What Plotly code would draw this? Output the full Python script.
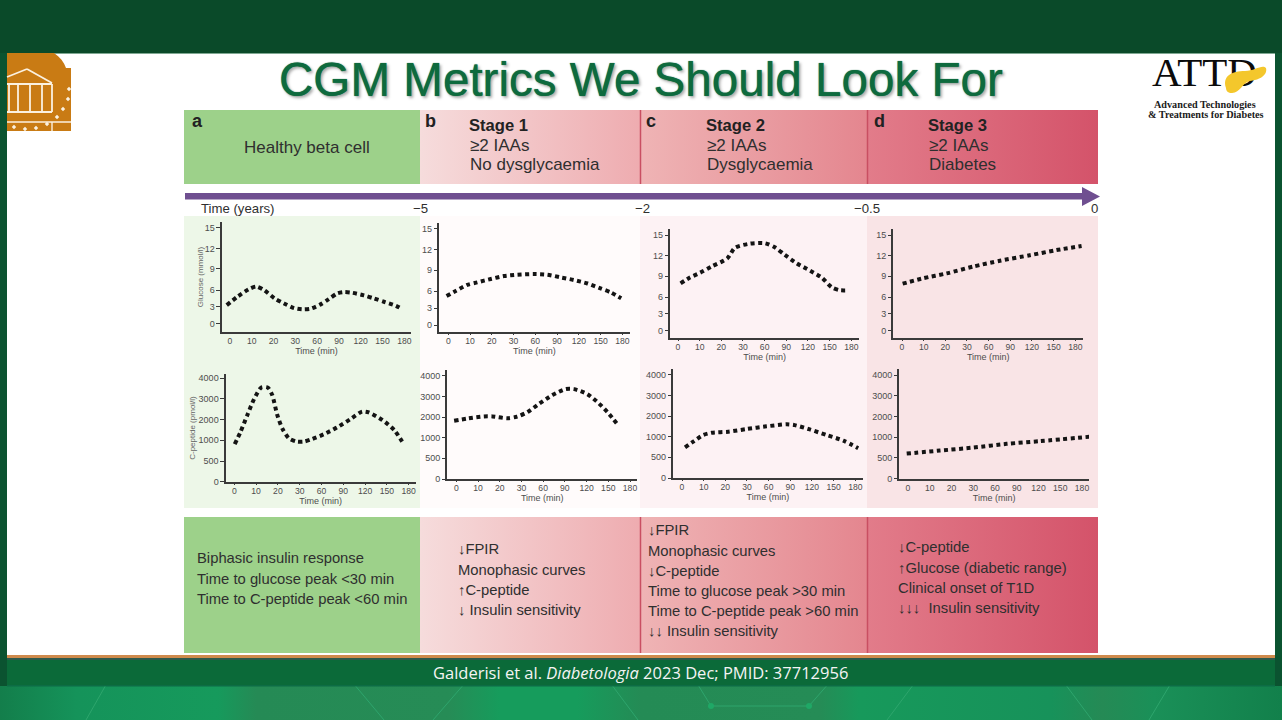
import numpy as np
import plotly.graph_objects as go

W, H = 1282, 720

# ---------- data ----------
TIME_TICKS = [0, 10, 20, 30, 60, 90, 120, 150, 180]
GLUCOSE_TICKS = [0, 3, 6, 9, 12, 15]
CPEPTIDE_TICKS = [0, 500, 1000, 2000, 3000, 4000]

a_glucose_t = [-1.5, 3.4, 8.7, 12.1, 15.6, 20.5, 24.8, 29.4, 39.5, 51, 64.8, 76, 87.7, 97, 108, 124.4, 138, 151.9, 168, 177]
a_glucose_v = [3.3, 4.8, 6.14, 6.5, 6.0, 4.5, 3.6, 2.77, 2.54, 2.65, 3.43, 4.37, 5.4, 5.64, 5.52, 5.04, 4.5, 3.9, 3.2, 2.6]
b_glucose_t = [-0.8, 3.4, 8.7, 13.3, 19.5, 25.6, 35, 58, 76.5, 95, 113, 132, 150, 164, 178.5]
b_glucose_v = [5.15, 6.03, 6.9, 7.26, 7.74, 8.16, 8.35, 8.44, 8.35, 7.97, 7.6, 7.1, 6.4, 5.8, 4.73]
c_glucose_t = [1.2, 5.5, 10.2, 15.5, 22.8, 26.3, 39.7, 60.6, 74, 88, 104, 123, 139, 153, 163.5, 172.6]
c_glucose_v = [7.97, 8.8, 9.5, 10.4, 11.6, 13.14, 13.74, 13.8, 13.2, 12.1, 10.9, 9.8, 8.8, 7.4, 7.0, 6.97]
d_glucose_t = [0.3, 9.8, 20.6, 38.7, 75.6, 117, 154, 188.7]
d_glucose_v = [7.93, 8.7, 9.4, 10.4, 11.25, 12.05, 12.8, 13.4]

a_cpeptide_t = [0.2, 2.9, 6, 9, 12.4, 15.4, 17.4, 19.7, 22, 25, 28.6, 36, 47, 63, 81.7, 100, 116, 125, 144, 160, 171]
a_cpeptide_v = [910, 1420, 2230, 2980, 3560, 3550, 3190, 2230, 1580, 1100, 970, 970, 1060, 1290, 1630, 2030, 2390, 2350, 1980, 1500, 970]
b_cpeptide_t = [-1, 5.8, 12.7, 16.6, 23.5, 28, 38, 54, 72.7, 91, 102.6, 121, 137, 151, 162.6]
b_cpeptide_v = [1820, 1940, 2030, 2030, 1940, 2020, 2230, 2630, 3060, 3350, 3350, 3110, 2660, 2150, 1645]
c_cpeptide_t = [1.4, 5.2, 9.8, 13.7, 21.4, 29.8, 57, 85, 96, 117, 140, 163.4, 184]
c_cpeptide_v = [740, 880, 1080, 1190, 1240, 1370, 1500, 1600, 1560, 1350, 1080, 905, 720]
d_cpeptide_t = [-0.6, 14.7, 30, 76, 122, 193]
d_cpeptide_v = [605, 678, 750, 840, 905, 1030]

HEADER_TEXT = ["Stage 1", "Stage 2", "Stage 3"]
TIME_LABELS = ["Time (years)", "\u22125", "\u22122", "\u22120.5", "0"]

# ---------- scales of the original drawing (its ticks are not evenly scaled) ----------
GLUCOSE_TICK_POS = [0, 0.82, 1.63, 2.65, 3.65, 4.65]
CPEPTIDE_TICK_POS = [0, 1, 2, 3, 4, 5]


def time_pos(t):
    return np.interp(t, [-10] + TIME_TICKS + [210], [-1, 0, 1, 2, 3, 4, 5, 6, 7, 8, 9]).tolist()


def glucose_pos(v):
    return np.interp(v, GLUCOSE_TICKS, GLUCOSE_TICK_POS).tolist()


def cpeptide_pos(v):
    return np.interp(v, CPEPTIDE_TICKS, CPEPTIDE_TICK_POS).tolist()


# geometry per panel in figure pixels: axis left, right, bottom, top, first x tick, last x tick, y=0 tick, top y tick
PANELS = [
    dict(t=a_glucose_t, v=a_glucose_v, kind="g", box=(221.7, 411.3, 331.7, 222.3, 230.0, 404.3, 323.7, 227.7), ytitle="Glucose (mmol/l)", standoff=0),
    dict(t=b_glucose_t, v=b_glucose_v, kind="g", box=(439.0, 629.7, 332.3, 223.3, 448.3, 622.3, 325.0, 228.7), ytitle=None, standoff=0),
    dict(t=c_glucose_t, v=c_glucose_v, kind="g", box=(670.0, 859.3, 338.0, 229.0, 678.0, 851.3, 330.7, 235.0), ytitle=None, standoff=0),
    dict(t=d_glucose_t, v=d_glucose_v, kind="g", box=(893.3, 1083.3, 338.0, 229.0, 902.0, 1075.3, 330.7, 235.0), ytitle=None, standoff=0),
    dict(t=a_cpeptide_t, v=a_cpeptide_v, kind="c", box=(225.7, 415.7, 482.3, 373.7, 234.3, 408.7, 481.7, 378.3), ytitle="C-peptide (pmol/l)", standoff=2),
    dict(t=b_cpeptide_t, v=b_cpeptide_v, kind="c", box=(447.3, 637.3, 479.3, 370.3, 456.3, 630.0, 479.0, 375.7), ytitle=None, standoff=0),
    dict(t=c_cpeptide_t, v=c_cpeptide_v, kind="c", box=(673.0, 862.7, 478.3, 369.3, 682.0, 855.3, 478.0, 374.7), ytitle=None, standoff=0),
    dict(t=d_cpeptide_t, v=d_cpeptide_v, kind="c", box=(899.3, 1089.0, 478.7, 369.3, 908.0, 1082.0, 478.7, 375.0), ytitle=None, standoff=0),
]

fig = go.Figure()
shapes, annots = [], []


def rect(x0, y0, x1, y1, color, layer="below"):
    shapes.append(dict(type="rect", xref="x", yref="y", x0=x0, y0=y0, x1=x1, y1=y1,
                       fillcolor=color, line=dict(width=0), layer=layer))


def seg(x0, y0, x1, y1, color, width=1.0, layer="below"):
    shapes.append(dict(type="line", xref="x", yref="y", x0=x0, y0=y0, x1=x1, y1=y1,
                       line=dict(color=color, width=width), layer=layer))


def path(d, color, layer="below"):
    shapes.append(dict(type="path", xref="x", yref="y", path=d, fillcolor=color,
                       line=dict(width=0), layer=layer))


def label(x, y, text, size=14.8, color="#2f2f2f", anchor="left", font="Liberation Sans", **kw):
    annots.append(dict(xref="x", yref="y", x=x, y=y, text=text, showarrow=False, xanchor=anchor, yanchor="middle",
                       borderpad=0, borderwidth=0,
                       font=dict(size=size, color=color, family=font, **kw)))


def gradient(x0, y0, x1, y1, stops):
    fig.add_trace(go.Scatter(x=[x0, x1, x1, x0, x0], y=[y0, y0, y1, y1, y0], mode="lines", fill="toself",
                             line=dict(width=0), hoverinfo="skip", showlegend=False,
                             fillgradient=dict(type="horizontal", colorscale=stops),
                             xaxis="x", yaxis="y"))


# backdrop
rect(0, 0, W, 53, "#0a4a29")
rect(0, 53, 7, 690, "#0b5330")
rect(1275, 53, W, 690, "#0b5330")
rect(7, 53, 1275, 655, "#ffffff")
rect(7, 53, 1275, 54, "#7fa892")
rect(7, 655, 1275, 658, "#cf8a4c")
rect(7, 658, 1275, 660, "#2d5a4c")
rect(7, 660, 1275, 687, "#0b6a39")

# bands
rows = [(110, 184), (517, 653)]
for y0, y1 in rows:
    rect(184, y0, 420, y1, "#9dd18a")
    gradient(420, y0, 640, y1, [[0, "#f6dcdc"], [1, "#eeacb0"]])
    gradient(640, y0, 867, y1, [[0, "#efb4b5"], [1, "#e4868f"]])
    gradient(867, y0, 1098, y1, [[0, "#e27c8a"], [1, "#d4536a"]])
    seg(640.5, y0, 640.5, y1, "#c94f62", 1.5, "above")
    seg(867.5, y0, 867.5, y1, "#c94f62", 1.5, "above")

# bottom backdrop with soft facets
gradient(0, 686, W, 720, [[0, "#137e4b"], [0.06, "#15935a"], [0.17, "#169a5c"], [0.2, "#258a55"], [0.35, "#268c56"],
                          [0.39, "#169c5c"], [0.45, "#169c5c"], [0.5, "#248b55"], [0.64, "#258c56"], [0.67, "#17995b"],
                          [0.82, "#17925a"], [0.86, "#258a55"], [0.9, "#1a9058"], [1, "#12804b"]])
rect(7, 685, 1275, 686.5, "#0d6c45", "above")
for x0, y0, x1, y1 in [(105, 686.5, 86, 720), (356, 686.5, 384, 720), (462, 686.5, 433, 720), (613, 686.5, 638, 720),
                       (699, 686.5, 711, 706), (826, 686.5, 809, 706), (711, 706, 809, 706), (912, 686.5, 887, 720),
                       (1067, 686.5, 1092, 720), (1169, 686.5, 1149, 720)]:
    seg(x0, y0, x1, y1, "#2ea56d", 1.0, "above")
for cx in (711, 809):
    shapes.append(dict(type="circle", xref="x", yref="y", x0=cx - 3, x1=cx + 3, y0=703, y1=709,
                       fillcolor="#1fa866", line=dict(width=0), layer="above"))

# panels backing
rect(184, 216, 420, 508, "#edf7e8")
rect(420, 216, 640, 508, "#fffbfb")
rect(640, 216, 867, 508, "#fdf2f4")
rect(867, 216, 1098, 508, "#f9e4e6")

# timeline arrow
path("M 185 193 L 1082 193 L 1082 187 L 1100 196.5 L 1082 206 L 1082 199.5 L 185 199.5 Z", "#6f4f90")

# university logo
LOGO = "#c97b14"
path("M 7 53 L 54 53 C 60 57 64 62 66 68 L 71 68 L 71 131 L 7 131 Z", LOGO)
WHT = "#fbf1e0"
seg(7, 77, 27, 69, WHT, 1.8)
seg(27, 69, 52, 83, WHT, 1.8)
seg(7, 84, 52, 84, WHT, 1.8)
for cx in (9, 18, 30, 42, 52):
    seg(cx, 84, cx, 112, WHT, 1.8)
seg(7, 112, 52, 112, WHT, 1.8)
seg(7, 122, 71, 122, WHT, 1.4)
seg(52, 122, 52, 131, WHT, 1.4)
for sx, sy in [(14, 127), (25, 129), (36, 128), (47, 124), (57, 117), (63, 109), (68, 99), (69, 89)]:
    path(f"M {sx - 2.2} {sy} L {sx} {sy - 2.2} L {sx + 2.2} {sy} L {sx} {sy + 2.2} Z", WHT)

# ATTD logo wordmark (a trace, so the pancreas can cover part of it)
fig.add_trace(go.Scatter(x=[1204.5], y=[76], mode="text", text=["ATTD"], hoverinfo="skip", showlegend=False,
                         textfont=dict(family="Liberation Serif", size=41, color="#0b0b0b"), xaxis="x", yaxis="y"))
path("M 1226 88 C 1222 76 1232 71 1245 71 C 1255 71 1262 64 1266 68 C 1268 76 1258 80 1250 81 "
     "C 1243 82 1240 93 1232 93 C 1228 93 1226 91 1226 88 Z", "#f4c72c", layer="above")
label(1205, 104, "<b>Advanced Technologies</b>", 10.2, "#1a1a1a", "center", "Liberation Serif")
label(1205.5, 114.5, "<b>&amp; Treatments for Diabetes</b>", 10.2, "#1a1a1a", "center", "Liberation Serif")

# title
label(641, 79, "CGM Metrics We Should Look For", 47.6, "#0e6a3e", "center",
      shadow="0 0 1px #0e6a3e, 2px 2px 3px #aaaaaa")

# header band text
for x, y, t in [(192, 121, "a"), (425, 121, "b"), (646, 120.5, "c"), (874, 120.5, "d")]:
    label(x, y, f"<b>{t}</b>", 18, "#222222")
label(307, 147, "Healthy beta cell", 17, "#2f2f2f", "center")
for x, name, sub in [(469, HEADER_TEXT[0], "No dysglycaemia"), (706, HEADER_TEXT[1], "Dysglycaemia"), (928, HEADER_TEXT[2], "Diabetes")]:
    label(x, 125, f"<b>{name}</b>", 16.6, "#222222")
    label(x + 1, 145.5, "\u22652 IAAs", 17, "#2f2f2f")
    label(x + 1, 164.5, sub, 17, "#2f2f2f")

# time labels
label(201, 208, TIME_LABELS[0], 13.2, "#2f2f2f")
label(420, 208, TIME_LABELS[1], 13.2, "#2f2f2f", "center")
label(642, 208, TIME_LABELS[2], 13.2, "#2f2f2f", "center")
label(867, 208, TIME_LABELS[3], 13.2, "#2f2f2f", "center")
label(1094, 208, TIME_LABELS[4], 13.2, "#2f2f2f", "center")

# bottom text
ARROW_DOWN, ARROW_UP = "\u2193", "\u2191"
BOTTOM = [
    (197, [(558, "Biphasic insulin response"), (579, "Time to glucose peak &lt;30 min"), (599, "Time to C-peptide peak &lt;60 min")]),
    (458, [(549, ARROW_DOWN + "FPIR"), (570, "Monophasic curves"), (590, ARROW_UP + "C-peptide"), (610, ARROW_DOWN + " Insulin sensitivity")]),
    (648, [(530, ARROW_DOWN + "FPIR"), (551, "Monophasic curves"), (571, ARROW_DOWN + "C-peptide"), (591, "Time to glucose peak &gt;30 min"),
           (611, "Time to C-peptide peak &gt;60 min"), (631, ARROW_DOWN * 2 + " Insulin sensitivity")]),
    (898, [(547, ARROW_DOWN + "C-peptide"), (568, ARROW_UP + "Glucose (diabetic range)"), (588, "Clinical onset of T1D"),
           (608, ARROW_DOWN * 3 + "  Insulin sensitivity")]),
]
for x, lines in BOTTOM:
    for y, t in lines:
        label(x, y, t, 14.8, "#2f2f2f")

label(640.5, 672, "Galderisi et al. <i>Diabetologia</i> 2023 Dec; PMID: 37712956", 16.5, "#f4f4f4", "center", "Open Sans")

# layout axes
layout = dict(
    width=W, height=H, margin=dict(l=0, r=0, t=0, b=0, pad=0), autosize=False,
    paper_bgcolor="#ffffff", plot_bgcolor="rgba(0,0,0,0)", showlegend=False,
    xaxis=dict(domain=[0, 1], range=[0, W], visible=False, fixedrange=True),
    yaxis=dict(domain=[0, 1], range=[H, 0], visible=False, fixedrange=True),
)

AX_LINE = "#3a3a3a"
XTICK_FONT = dict(family="Liberation Sans", size=8.6, color="#4d4d4d")
YTICK_FONT = dict(family="Liberation Sans", size=9, color="#4d4d4d")
for i, p in enumerate(PANELS):
    n = i + 2
    L, R, B, T, x0, x8, y0, ytop = p["box"]
    ux = (x8 - x0) / 8
    if p["kind"] == "g":
        ypos, ticks, tickpos, uy = glucose_pos(p["v"]), GLUCOSE_TICKS, GLUCOSE_TICK_POS, (y0 - ytop) / GLUCOSE_TICK_POS[-1]
    else:
        ypos, ticks, tickpos, uy = cpeptide_pos(p["v"]), CPEPTIDE_TICKS, CPEPTIDE_TICK_POS, (y0 - ytop) / CPEPTIDE_TICK_POS[-1]
    fig.add_trace(go.Scatter(x=time_pos(p["t"]), y=ypos, mode="lines", cliponaxis=False, hoverinfo="skip", showlegend=False,
                             line=dict(color="#141414", width=4, dash="4px,3.5px", shape="spline", smoothing=0.7),
                             xaxis=f"x{n}", yaxis=f"y{n}"))
    layout[f"xaxis{n}"] = dict(
        domain=[L / W, R / W], range=[(L - x0) / ux, (R - x0) / ux], anchor=f"y{n}", fixedrange=True,
        tickmode="array", tickvals=list(range(9)), ticktext=[str(t) for t in TIME_TICKS],
        showgrid=False, zeroline=False, showline=True, linecolor=AX_LINE, linewidth=1.5,
        ticks="outside", ticklen=1, tickcolor=AX_LINE, tickwidth=1, tickfont=XTICK_FONT, tickangle=0,
        ticklabelstandoff=-1, automargin=False,
        title=dict(text="Time (min)", standoff=0, font=dict(family="Liberation Sans", size=9, color="#4d4d4d")))
    layout[f"yaxis{n}"] = dict(
        domain=[1 - B / H, 1 - T / H], range=[(y0 - B) / uy, (y0 - T) / uy], anchor=f"x{n}", fixedrange=True,
        tickmode="array", tickvals=tickpos, ticktext=[str(t) for t in ticks],
        showgrid=False, zeroline=False, showline=True, linecolor=AX_LINE, linewidth=1.5,
        ticks="outside", ticklen=3.5, tickcolor=AX_LINE, tickwidth=1, tickfont=YTICK_FONT,
        automargin=False,
        title=dict(text=p["ytitle"] or "", standoff=p["standoff"], font=dict(family="Liberation Sans", size=8, color="#666666")))

fig.update_layout(**layout, shapes=shapes, annotations=annots)
fig.write_html("out.html", config=dict(displayModeBar=False, responsive=False),
               post_script="document.body.style.margin='0';document.body.style.overflow='hidden';")
